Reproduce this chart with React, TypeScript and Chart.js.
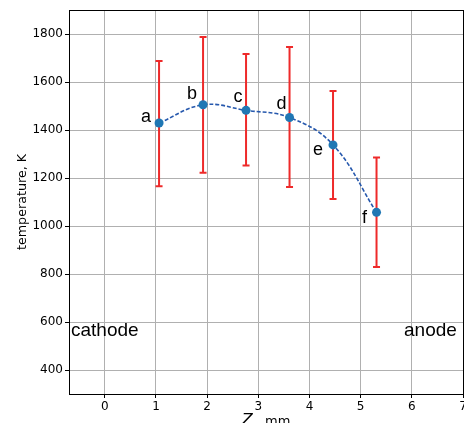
import React, { useEffect, useRef } from "react";
import { Chart, registerables } from "chart.js";

Chart.register(...registerables);

const pointLabels = ["a", "b", "c", "d", "e", "f"];
const zValues = [1.06, 1.92, 2.76, 3.61, 4.46, 5.31];
const temperatures = [1429, 1505, 1482, 1452, 1338, 1057];
const errUpper = [1688, 1788, 1717, 1746, 1562, 1285];
const errLower = [1166, 1222, 1252, 1162, 1112, 829];
const xTicks = [0, 1, 2, 3, 4, 5, 6, 7];
const yTicks = [400, 600, 800, 1000, 1200, 1400, 1600, 1800];
const regionLabels = ["cathode", "anode"];

const labelOffsets: [number, number][] = [
  [-13, -6],
  [-11, -11],
  [-8, -13],
  [-8, -13],
  [-15, 5],
  [-12, 6],
];

const overlayPlugin = {
  id: "overlay",
  beforeDatasetsDraw(chart: any) {
    const { ctx, scales } = chart;
    const xs = scales.x;
    const ys = scales.y;
    ctx.save();
    ctx.strokeStyle = "#ee2a2a";
    ctx.lineWidth = 2;
    for (let i = 0; i < zValues.length; i++) {
      const px = xs.getPixelForValue(zValues[i]);
      const top = ys.getPixelForValue(errUpper[i]);
      const bot = ys.getPixelForValue(errLower[i]);
      ctx.beginPath();
      ctx.moveTo(px, top);
      ctx.lineTo(px, bot);
      ctx.moveTo(px - 3.5, top);
      ctx.lineTo(px + 3.5, top);
      ctx.moveTo(px - 3.5, bot);
      ctx.lineTo(px + 3.5, bot);
      ctx.stroke();
    }
    ctx.restore();
  },
  afterDraw(chart: any) {
    const { ctx, scales, chartArea } = chart;
    const xs = scales.x;
    const ys = scales.y;
    ctx.save();
    ctx.strokeStyle = "#000";
    ctx.lineWidth = 1;
    ctx.strokeRect(
      Math.round(chartArea.left) + 0.5,
      Math.round(chartArea.top) + 0.5,
      Math.round(chartArea.right - chartArea.left),
      Math.round(chartArea.bottom - chartArea.top)
    );
    ctx.fillStyle = "#000";
    ctx.font = "18px 'Liberation Sans', Arial, sans-serif";
    ctx.textAlign = "center";
    ctx.textBaseline = "middle";
    for (let i = 0; i < pointLabels.length; i++) {
      const px = xs.getPixelForValue(zValues[i]);
      const py = ys.getPixelForValue(temperatures[i]);
      ctx.fillText(pointLabels[i], px + labelOffsets[i][0], py + labelOffsets[i][1]);
    }
    ctx.font = "19px 'Liberation Sans', Arial, sans-serif";
    const ry = ys.getPixelForValue(562);
    ctx.textAlign = "left";
    ctx.fillText(regionLabels[0], chartArea.left + 2, ry);
    ctx.textAlign = "right";
    ctx.fillText(regionLabels[1], xs.getPixelForValue(6.88), ry);
    ctx.save();
    ctx.translate(23, (chartArea.top + chartArea.bottom) / 2);
    ctx.rotate(-Math.PI / 2);
    ctx.textAlign = "center";
    ctx.textBaseline = "middle";
    ctx.font = "12.7px 'DejaVu Sans', sans-serif";
    ctx.fillText("temperature, K", 0, 0);
    ctx.restore();
    const cx = (chartArea.left + chartArea.right) / 2;
    ctx.textBaseline = "alphabetic";
    ctx.textAlign = "left";
    ctx.font = "italic 16px 'DejaVu Sans', sans-serif";
    const zw = ctx.measureText("Z").width;
    ctx.font = "13px 'DejaVu Sans', sans-serif";
    const rest = " , mm";
    const rw = ctx.measureText(rest).width;
    const start = cx - (zw + rw) / 2;
    const by = 425;
    ctx.font = "italic 16px 'DejaVu Sans', sans-serif";
    ctx.fillText("Z", start, by);
    ctx.font = "13px 'DejaVu Sans', sans-serif";
    ctx.fillText(rest, start + zw, by);
    ctx.restore();
  },
};

export default function App() {
  const ref = useRef<HTMLCanvasElement | null>(null);
  useEffect(() => {
    if (!ref.current) return;
    const chart = new Chart(ref.current, {
      type: "scatter",
      data: {
        datasets: [
          {
            data: zValues.map((z, i) => ({ x: z, y: temperatures[i] })),
            showLine: true,
            borderColor: "#2658ad",
            borderWidth: 1.6,
            borderDash: [4, 2],
            tension: 0.4,
            pointRadius: 4.5,
            pointBackgroundColor: "#1f77b4",
            pointBorderColor: "#1f77b4",
            pointBorderWidth: 0,
          },
        ],
      },
      options: {
        responsive: false,
        animation: false,
        devicePixelRatio: 1,
        layout: { autoPadding: false, padding: { top: 10, right: 1, left: 0, bottom: 0 } },
        plugins: {
          legend: { display: false },
          tooltip: { enabled: false },
        },
        scales: {
          x: {
            type: "linear",
            min: -0.7,
            max: 7,
            afterBuildTicks: (s: any) => {
              s.ticks = xTicks.map((v) => ({ value: v }));
            },
            afterFit: (s: any) => {
              s.height = 29;
              s.paddingLeft = 0;
              s.paddingRight = 0;
            },
            grid: {
              color: "#b0b0b0",
              lineWidth: 1,
              tickColor: "#000",
              tickLength: 4,
            },
            border: { display: false },
            ticks: {
              color: "#000",
              padding: 2,
              maxRotation: 0,
              autoSkip: false,
              font: { family: "'DejaVu Sans', sans-serif", size: 12 },
              callback: (v: any) => String(v),
            },
          },
          y: {
            type: "linear",
            min: 300,
            max: 1900,
            afterBuildTicks: (s: any) => {
              s.ticks = yTicks.map((v) => ({ value: v }));
            },
            afterFit: (s: any) => {
              s.width = 69;
              s.paddingTop = 0;
              s.paddingBottom = 0;
            },
            grid: {
              color: "#b0b0b0",
              lineWidth: 1,
              tickColor: "#000",
              tickLength: 4,
            },
            border: { display: false },
            ticks: {
              color: "#000",
              padding: 2,
              autoSkip: false,
              font: { family: "'DejaVu Sans', sans-serif", size: 12 },
              callback: (v: any) => String(v),
            },
          },
        },
      },
      plugins: [overlayPlugin],
    });
    return () => chart.destroy();
  }, []);
  return (
    <div style={{ position: "absolute", left: 0, top: 0, width: 464, height: 423, background: "#fff" }}>
      <canvas ref={ref} width={464} height={423} style={{ display: "block" }} />
    </div>
  );
}
